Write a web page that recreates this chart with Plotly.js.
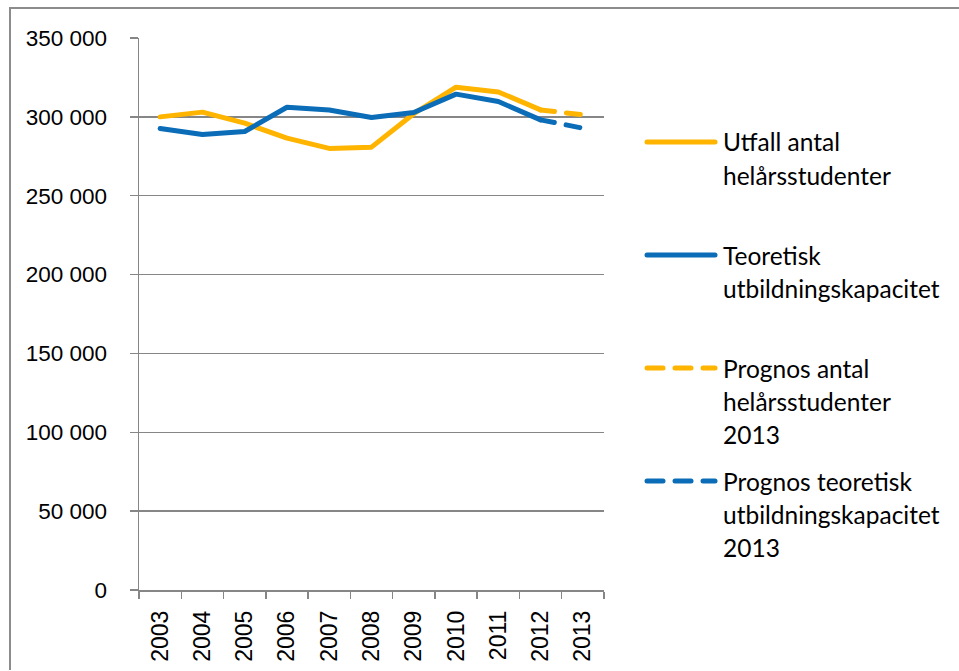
<!DOCTYPE html>
<html>
<head>
<meta charset="utf-8">
<script src="https://cdn.plot.ly/plotly-3.0.1.min.js"></script>
<style>
  html, body { margin: 0; padding: 0; background: #fff; overflow: hidden; }
  #chart { position: absolute; left: 0; top: 0; width: 959px; height: 671px; }
  #frame { position: absolute; left: 9px; top: 7px; width: 1000px; height: 661px; border-left: 2px solid #8c8c8c; border-top: 2px solid #8c8c8c; pointer-events: none; }
  .scatterlayer path.js-line { stroke-linecap: round; stroke-linejoin: round; }
  .shapelayer path { stroke-linecap: round; }
</style>
</head>
<body>
<div id="chart"></div>
<div id="frame"></div>
<script>
const years = ['2003','2004','2005','2006','2007','2008','2009','2010','2011','2012','2013'];
const utfall = [300000, 303000, 296000, 286500, 280000, 280800, 302000, 318800, 315800, 304400, null];
const kapacitet = [292600, 288800, 290700, 306100, 304400, 299600, 302800, 314400, 309700, 298100, null];
const prognosUtfall = [null, null, null, null, null, null, null, null, null, 304400, 301300];
const prognosKapacitet = [null, null, null, null, null, null, null, null, null, 298100, 292800];
const yTicks = [0, 50000, 100000, 150000, 200000, 250000, 300000, 350000];

const orange = '#FFB400';
const blue = '#0B6CB8';
const legendNames = [
  ['Utfall antal', 'helårsstudenter'],
  ['Teoretisk', 'utbildningskapacitet'],
  ['Prognos antal', 'helårsstudenter', '2013'],
  ['Prognos teoretisk', 'utbildningskapacitet', '2013']
];

const traces = [
  {x: years, y: utfall, name: legendNames[0].join(' '), mode: 'lines', line: {color: orange, width: 5}},
  {x: years, y: kapacitet, name: legendNames[1].join(' '), mode: 'lines', line: {color: blue, width: 5}},
  {x: years, y: prognosUtfall, name: legendNames[2].join(' '), mode: 'lines', line: {color: orange, width: 5, dash: '14px,12px'}},
  {x: years, y: prognosKapacitet, name: legendNames[3].join(' '), mode: 'lines', line: {color: blue, width: 5, dash: '14px,12px'}}
];

// custom legend (pixel positions converted to paper coords)
const W = 959, H = 671, mL = 139, mR = 355, mT = 38, mB = 81;
const pw = W - mL - mR, ph = H - mT - mB;
const px = x => (x - mL) / pw;
const py = y => 1 - (y - mT) / ph;
const legendY = [142, 255, 368, 481];
const legendColors = [orange, blue, orange, blue];
const legendDash = ['solid', 'solid', 'dash', 'dash'];
const shapes = [];
const annotations = [];
legendY.forEach((y, i) => {
  if (legendDash[i] === 'solid') {
    shapes.push({type: 'line', xref: 'paper', yref: 'paper', x0: px(647), x1: px(715), y0: py(y), y1: py(y), line: {color: legendColors[i], width: 5}});
  } else {
    [[647, 663], [675, 691], [703, 715]].forEach(s => {
      shapes.push({type: 'line', xref: 'paper', yref: 'paper', x0: px(s[0]), x1: px(s[1]), y0: py(y), y1: py(y), line: {color: legendColors[i], width: 5}});
    });
  }
  legendNames[i].forEach((t, j) => {
    annotations.push({text: t, xref: 'paper', yref: 'paper', x: px(721), y: py(y + j * 33), xanchor: 'left', yanchor: 'middle', showarrow: false, font: {family: 'Lato, "Open Sans", sans-serif', size: 24.5, color: '#000'}});
  });
});

const layout = {
  width: W, height: H,
  margin: {l: mL, r: mR, t: mT, b: mB, pad: 0},
  paper_bgcolor: 'rgba(0,0,0,0)', plot_bgcolor: '#fff',
  showlegend: false,
  separators: ', ',
  font: {family: '"Liberation Sans", Arial, sans-serif', size: 22, color: '#000'},
  xaxis: {
    type: 'category', range: [-0.5, 10.5], tickangle: -90,
    showline: true, linecolor: '#868686', linewidth: 1.5,
    ticks: 'outside', tickson: 'boundaries', ticklen: 7, tickcolor: '#868686', tickwidth: 1.5,
    showgrid: false, zeroline: false, ticklabelstandoff: 10,
    tickfont: {family: '"Liberation Sans", Arial, sans-serif', size: 23, color: '#000'}
  },
  yaxis: {
    range: [0, 350000], tickvals: yTicks, tickformat: ',d',
    showline: true, linecolor: '#868686', linewidth: 1.5,
    ticks: 'outside', ticklen: 8, tickcolor: '#868686', tickwidth: 1.5,
    showgrid: true, gridcolor: '#868686', gridwidth: 1.3, zeroline: false,
    ticklabelstandoff: 18,
    tickfont: {family: '"Liberation Sans", Arial, sans-serif', size: 22.5, color: '#000'}
  },
  shapes: shapes,
  annotations: annotations
};

Plotly.newPlot('chart', traces, layout, {staticPlot: true, displayModeBar: false});
</script>
</body>
</html>
